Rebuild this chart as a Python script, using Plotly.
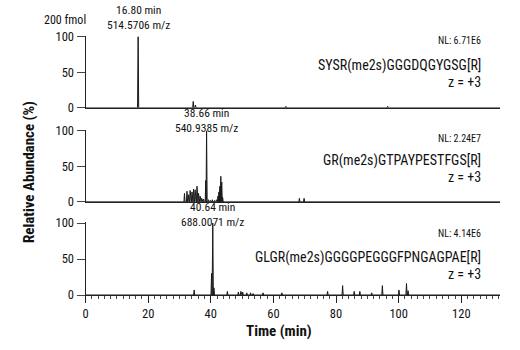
import plotly.graph_objects as go

# ---- data ----
p1_times   = [16.80, 34.4, 35.1, 64.0, 96.5]
p1_heights = [100, 9, 4, 2, 2]

p2_times   = [31.6, 32.4, 32.9, 33.4, 34.0, 34.5, 35.0, 35.6, 36.1, 36.6, 37.1, 37.7,
              38.40, 38.66, 39.3, 39.9, 40.5, 41.2, 41.8,
              42.3, 42.6, 42.9, 43.2, 43.5, 43.8, 56.8, 68.3, 69.8, 77.5]
p2_heights = [12, 15, 10, 16, 14, 18, 17, 22, 12, 8, 5, 4,
              30, 100, 3, 2, 3, 2, 3,
              8, 14, 22, 36, 28, 6, 1, 5, 5, 1]

p3_times   = [34.7, 40.25, 40.64, 41.0, 45.3, 48.8, 49.6, 50.2, 51.5, 52.7, 53.5, 56.7,
              62.7, 77.3, 82.1, 85.8, 87.6, 91.4, 94.8, 100.1, 102.5, 103.0]
p3_heights = [7, 30, 100, 10, 5, 4, 5, 4, 3, 3, 2, 3,
              3, 5, 13, 5, 5, 3, 13, 7, 16, 6]

peak_labels = ["16.80 min<br>514.5706 m/z", "38.66 min<br>540.9385 m/z", "40.64 min<br>688.0071 m/z"]
label_times = [16.80, 38.66, 40.64]
nl_texts = ["NL: 6.71E6", "NL: 2.24E7", "NL: 4.14E6"]
peptides = ["SYSR(me2s)GGGDQGYGSG[R]", "GR(me2s)GTPAYPESTFGS[R]", "GLGR(me2s)GGGGPEGGGFPNGAGPAE[R]"]
charges = ["z = +3", "z = +3", "z = +3"]
x_ticks = [0, 20, 40, 60, 80, 100, 120]
y_ticks = [0, 50, 100]

XMAX = 132.4
W, H = 520, 350
FONT = "Liberation Sans Narrow, Arial Narrow, Roboto Condensed, Roboto, sans-serif"

def trace_xy(times, heights, w=0.18):
    pairs = sorted(zip(times, heights))
    xs, ys = [0.0], [0.0]
    for t, h in pairs:
        xs += [t - w, t, t + w]
        ys += [0, h, 0]
    xs.append(XMAX); ys.append(0)
    return xs, ys

def py(px):
    return 1 - px / H

def pxx(px):
    return px / W

panels = [(p1_times, p1_heights), (p2_times, p2_heights), (p3_times, p3_heights)]
y0_px = [105, 203, 300]
y100_px = [31, 129, 225]

fig = go.Figure()
dom_x = [pxx(83), pxx(500)]
for i, (ts, hs) in enumerate(panels):
    xs, ys = trace_xy(ts, hs)
    n = "" if i == 0 else str(i + 1)
    fig.add_trace(go.Scatter(x=xs, y=ys, mode="lines", xaxis="x" + n, yaxis="y" + n,
                             line=dict(color="#1a1a1a", width=1), fill="tozeroy",
                             fillcolor="rgba(90,90,90,0.7)", showlegend=False,
                             hoverinfo="skip"))
    top = 101
    ytop_px = y0_px[i] - (y0_px[i] - y100_px[i]) * top / 100
    last = i == 2
    fig.layout["xaxis" + n] = dict(
        domain=dom_x, range=[0, XMAX], anchor="y" + n,
        showline=True, linecolor="#222", linewidth=1, showgrid=False, zeroline=False,
        tickvals=x_ticks if last else [], showticklabels=last,
        ticks="outside" if last else "", ticklen=7, tickwidth=1, tickcolor="#222",
        minor=dict(dtick=2, ticks="outside", ticklen=3, tickcolor="#444") if last else None,
        tickfont=dict(family=FONT, size=12.5, color="#111"),
    )
    fig.layout["yaxis" + n] = dict(
        domain=[py(y0_px[i]), py(ytop_px)], range=[0, top], anchor="x" + n,
        showline=True, linecolor="#222", linewidth=1, showgrid=False, zeroline=False,
        tickvals=y_ticks, ticks="outside", ticklen=8, tickwidth=1, tickcolor="#444",
        tickfont=dict(family=FONT, size=12.5, color="#111"),
    )

ann = []
lab_y = [11, 118, 216]
nl_y = [35, 137, 236]
pep_y = [61, 160, 261]
z_y = [78, 177, 278]
for i in range(3):
    n = "" if i == 0 else str(i + 1)
    ann.append(dict(x=label_times[i], xref="x" + n, y=py(lab_y[i]), yref="paper",
                    text=peak_labels[i], showarrow=False, xanchor="center", yanchor="middle",
                    font=dict(family=FONT, size=11.5, color="#111")))
    ann.append(dict(x=pxx(483), xref="paper", y=py(nl_y[i]), yref="paper", text=nl_texts[i],
                    showarrow=False, xanchor="right", yanchor="middle",
                    font=dict(family=FONT, size=10, color="#111")))
    ann.append(dict(x=pxx(483), xref="paper", y=py(pep_y[i]), yref="paper", text=peptides[i],
                    showarrow=False, xanchor="right", yanchor="middle",
                    font=dict(family=FONT, size=14, color="#111")))
    ann.append(dict(x=pxx(483), xref="paper", y=py(z_y[i]), yref="paper", text=charges[i],
                    showarrow=False, xanchor="right", yanchor="middle",
                    font=dict(family=FONT, size=14, color="#111")))

ann.append(dict(x=pxx(62), xref="paper", y=py(14), yref="paper", text="200 fmol", showarrow=False,
                xanchor="center", yanchor="middle", font=dict(family=FONT, size=12, color="#111")))
ann.append(dict(x=pxx(26), xref="paper", y=py(172), yref="paper", text="<b>Relative Abundance (%)</b>",
                showarrow=False, textangle=-90, xanchor="center", yanchor="middle",
                font=dict(family=FONT, size=15, color="#111")))
ann.append(dict(x=pxx(278), xref="paper", y=py(338), yref="paper", text="<b>Time (min)</b>",
                showarrow=False, xanchor="center", yanchor="middle",
                font=dict(family=FONT, size=15, color="#111")))

fig.update_layout(width=W, height=H, margin=dict(l=0, r=0, t=0, b=0),
                  plot_bgcolor="white", paper_bgcolor="white", annotations=ann,
                  font=dict(family=FONT))
fig.write_html("out.html")
